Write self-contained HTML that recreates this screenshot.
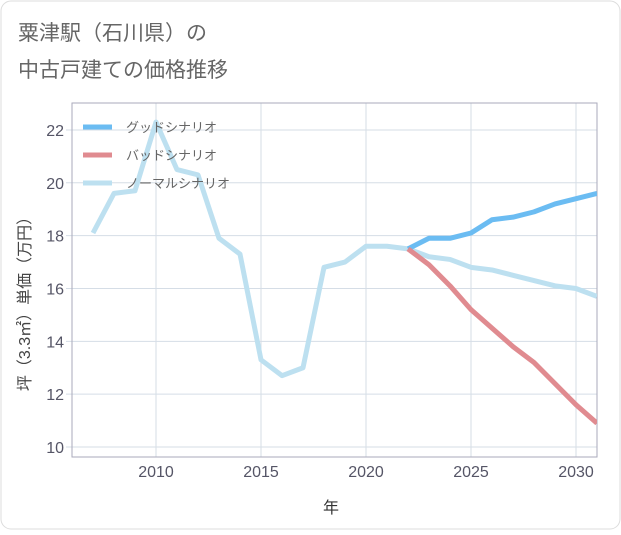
<!DOCTYPE html>
<html><head><meta charset="utf-8"><style>
body{margin:0;background:#fff;font-family:"Liberation Sans","Noto Sans CJK JP",sans-serif;}
#wrap{position:relative;width:621px;height:530px;}
</style></head><body>
<div id="wrap">
<svg id="chart" width="621" height="530" xmlns="http://www.w3.org/2000/svg" font-family="Liberation Sans, Noto Sans CJK JP, sans-serif">
<rect x="1" y="1" width="619" height="528" rx="10" fill="#fff" stroke="#ddd"/>
<text x="18" y="40" font-size="21" fill="#666">粟津駅（石川県）の</text>
<text x="18" y="77" font-size="21" fill="#666">中古戸建ての価格推移</text>
<g id="grid"></g>
<rect x="72" y="103" width="525" height="354" fill="none" stroke="#aab"/>
<g id="series"></g>
<g id="legend"></g>
<text x="331" y="513" font-size="16" fill="#333" text-anchor="middle">年</text>
<text transform="translate(30,300) rotate(-90)" font-size="16" fill="#444" text-anchor="middle">坪（3.3㎡）単価（万円）</text>
</svg>
</div>
<script>
const years=[2007,2008,2009,2010,2011,2012,2013,2014,2015,2016,2017,2018,2019,2020,2021,2022,2023,2024,2025,2026,2027,2028,2029,2030,2031];
const normalVals=[18.1,19.6,19.7,22.3,20.5,20.3,17.9,17.3,13.3,12.7,13.0,16.8,17.0,17.6,17.6,17.5,17.2,17.1,16.8,16.7,16.5,16.3,16.1,16.0,15.7];
const futureYears=[2022,2023,2024,2025,2026,2027,2028,2029,2030,2031];
const goodVals=[17.5,17.9,17.9,18.1,18.6,18.7,18.9,19.2,19.4,19.6];
const badVals=[17.5,16.9,16.1,15.2,14.5,13.8,13.2,12.4,11.6,10.9];
const xTicks=[2010,2015,2020,2025,2030];
const yTicks=[10,12,14,16,18,20,22];
const legendLabels=["グッドシナリオ","バッドシナリオ","ノーマルシナリオ"];
const legendColors=["#6bbcf2","#e08b90","#bde0f0"];
const NS="http://www.w3.org/2000/svg";
const X=y=>156+(y-2010)*21;
const Y=v=>447-(v-10)*26.42;
function mk(t,a,p){const e=document.createElementNS(NS,t);for(const k in a)e.setAttribute(k,a[k]);p.appendChild(e);return e;}
const grid=document.getElementById('grid');
xTicks.forEach(t=>{
const l=mk('line',{x1:X(t),x2:X(t),y1:103,y2:457,stroke:'#d5dde6'},grid);


const tx=mk('text',{x:X(t),y:477,'font-size':16,fill:'#556','text-anchor':'middle'},grid);tx.textContent=t;


});
yTicks.forEach(t=>{
const l=mk('line',{x1:66,x2:597,y1:Y(t),y2:Y(t),stroke:'#d5dde6'},grid);


const tx=mk('text',{x:64,y:Y(t)+6,'font-size':16,fill:'#556','text-anchor':'end'},grid);tx.textContent=t;


});
const S=document.getElementById('series');
function line(xs,vs,color,name){
const p=mk('polyline',{points:xs.map((x,i)=>X(x)+','+Y(vs[i])).join(' '),fill:'none',stroke:color,'stroke-width':5,'stroke-linejoin':'round'},S);


}
const cp=mk('clipPath',{id:'cp'},S);mk('rect',{x:72,y:103,width:525,height:354},cp);
S.setAttribute('clip-path','url(#cp)');
line(years,normalVals,legendColors[2],'normal-scenario-line');
line(futureYears,goodVals,legendColors[0],'good-scenario-line');
line(futureYears,badVals,legendColors[1],'bad-scenario-line');
const L=document.getElementById('legend');
legendLabels.forEach((lab,i)=>{
const y=127+i*28;
const g=mk('g',{},L);


mk('line',{x1:83,x2:112,y1:y,y2:y,stroke:legendColors[i],'stroke-width':5},g);
const t=mk('text',{x:126,y:y+5,'font-size':13,fill:'#666'},g);t.textContent=lab;
});
</script>
</body></html>
